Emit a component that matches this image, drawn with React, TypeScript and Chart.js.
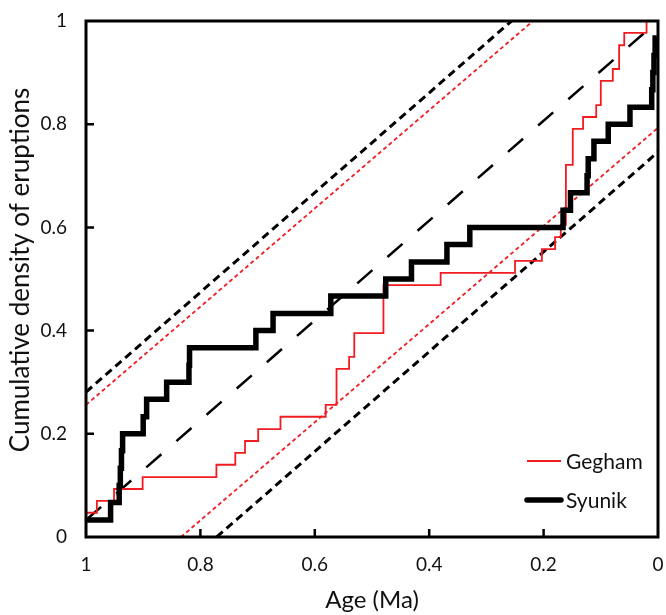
import React, { useEffect, useRef } from 'react';
import { Chart, registerables } from 'chart.js';

Chart.register(...registerables);

// ---- Axis ticks ----
const xTicks = [1, 0.8, 0.6, 0.4, 0.2, 0];
const xTickLabels = ['1', '0.8', '0.6', '0.4', '0.2', '0'];
const yTicks = [0, 0.2, 0.4, 0.6, 0.8, 1];
const yTickLabels = ['0', '0.2', '0.4', '0.6', '0.8', '1'];

const xTitle = 'Age (Ma)';
const yTitle = 'Cumulative density of eruptions';

// ---- Syunik (cumulative steps: age where the step occurs, new density) ----
const syunikAge = [
  1.0, 0.957, 0.942, 0.94, 0.938, 0.936, 0.9, 0.894, 0.859, 0.82, 0.819,
  0.703, 0.673, 0.572, 0.476, 0.431, 0.369, 0.329, 0.166, 0.153, 0.124,
  0.122, 0.112, 0.087, 0.049, 0.011, 0.009, 0.007, 0.005, 0.002,
];
const syunikDensity = [
  0.033, 0.067, 0.1, 0.133, 0.167, 0.2, 0.233, 0.267, 0.3, 0.333, 0.367,
  0.4, 0.433, 0.467, 0.5, 0.533, 0.567, 0.6, 0.633, 0.667, 0.7,
  0.733, 0.767, 0.8, 0.833, 0.867, 0.9, 0.933, 0.967, 0.967,
];

// ---- Gegham ----
const geghamAge = [
  1.0, 0.981, 0.951, 0.901, 0.772, 0.739, 0.722, 0.699, 0.66, 0.581, 0.562,
  0.54, 0.531, 0.48, 0.38, 0.25, 0.203, 0.18, 0.17, 0.161, 0.149, 0.131,
  0.108, 0.1, 0.079, 0.068, 0.059, 0.02, 0.002,
];
const geghamDensity = [
  0.047, 0.07, 0.093, 0.116, 0.14, 0.163, 0.186, 0.209, 0.233, 0.256, 0.326,
  0.349, 0.395, 0.488, 0.512, 0.535, 0.558, 0.581, 0.605, 0.721, 0.791, 0.814,
  0.837, 0.884, 0.907, 0.953, 0.977, 1.0, 1.0,
];

// ---- Reference lines ----
const uniformAge = [1, 0];
const uniformDensity = [0.033, 1];
const syunikUpperAge = [1, 0.256];
const syunikUpperDensity = [0.281, 1];
const syunikLowerAge = [0.7715, 0];
const syunikLowerDensity = [0, 0.746];
const geghamUpperAge = [1, 0.2185];
const geghamUpperDensity = [0.256, 1];
const geghamLowerAge = [0.834, 0];
const geghamLowerDensity = [0, 0.793];

const RED = 'rgb(240, 28, 34)';
const FONT = 'Lato, "Open Sans", sans-serif';

const pts = (xs: number[], ys: number[]) => xs.map((x, i) => ({ x, y: ys[i] }));

const framePlugin = {
  id: 'frameAndLegend',
  afterDraw(chart: any) {
    const { ctx, chartArea: a, scales } = chart;
    const xs = scales.x;
    const ys = scales.y;
    ctx.save();
    // frame
    ctx.strokeStyle = '#000';
    ctx.lineWidth = 3;
    ctx.strokeRect(a.left, a.top, a.right - a.left, a.bottom - a.top);
    // inward tick marks
    ctx.lineWidth = 2.5;
    ctx.beginPath();
    xTicks.forEach((v) => {
      if (v === 0 || v === 1) return;
      const px = xs.getPixelForValue(v);
      ctx.moveTo(px, a.bottom);
      ctx.lineTo(px, a.bottom - 8);
    });
    yTicks.forEach((v) => {
      if (v === 0 || v === 1) return;
      const py = ys.getPixelForValue(v);
      ctx.moveTo(a.left, py);
      ctx.lineTo(a.left + 8, py);
    });
    ctx.stroke();

    // legend
    const items = [
      { label: chart.data.datasets[1].label, color: RED, width: 2, cap: 'butt', y: a.bottom - 76 },
      { label: chart.data.datasets[0].label, color: '#000', width: 5.5, cap: 'round', y: a.bottom - 37 },
    ];
    ctx.font = `21px ${FONT}`;
    ctx.textAlign = 'left';
    ctx.textBaseline = 'middle';
    items.forEach((it) => {
      ctx.strokeStyle = it.color;
      ctx.lineWidth = it.width;
      ctx.lineCap = it.cap as CanvasLineCap;
      ctx.beginPath();
      ctx.moveTo(a.right - 131, it.y);
      ctx.lineTo(a.right - 97, it.y);
      ctx.stroke();
      ctx.fillStyle = '#111';
      ctx.fillText(it.label, a.right - 92, it.y + 1);
    });

    // y-axis title
    ctx.translate(21, 270);
    ctx.rotate(-Math.PI / 2);
    ctx.font = `26px ${FONT}`;
    ctx.textAlign = 'center';
    ctx.textBaseline = 'middle';
    ctx.fillStyle = '#111';
    ctx.fillText(yTitle, 0, 0);
    ctx.restore();
  },
};

export default function App() {
  const ref = useRef<HTMLCanvasElement>(null);
  useEffect(() => {
    document.body.style.margin = '0';
    const canvas = ref.current!;
    const line = (label: string, xs: number[], ys: number[], color: string, width: number, dash: number[] = [], stepped = false) => ({
      label,
      data: pts(xs, ys),
      borderColor: color,
      backgroundColor: color,
      borderWidth: width,
      borderDash: dash,
      stepped,
      pointRadius: 0,
      fill: false,
      tension: 0,
      borderJoinStyle: 'miter',
      borderCapStyle: 'butt',
    });
    const chart = new Chart(canvas, {
      type: 'line',
      data: {
        datasets: [
          line('Syunik', syunikAge, syunikDensity, '#000', 5.5, [], true),
          line('Gegham', geghamAge, geghamDensity, RED, 1.8, [], true),
          line('Uniform', uniformAge, uniformDensity, '#000', 2.5, [20, 20]),
          line('Gegham upper', geghamUpperAge, geghamUpperDensity, RED, 1.8, [4, 3]),
          line('Gegham lower', geghamLowerAge, geghamLowerDensity, RED, 1.8, [4, 3]),
          line('Syunik upper', syunikUpperAge, syunikUpperDensity, '#000', 3, [8, 5]),
          line('Syunik lower', syunikLowerAge, syunikLowerDensity, '#000', 3, [8, 5]),
        ] as any,
      },
      options: {
        responsive: false,
        animation: false,
        layout: { padding: { left: 0, right: 8, top: 21, bottom: 0 } },
        plugins: { legend: { display: false }, tooltip: { enabled: false } },
        scales: {
          x: {
            type: 'linear',
            reverse: true,
            min: 0,
            max: 1,
            afterBuildTicks: (s: any) => {
              s.ticks = xTicks.map((v) => ({ value: v }));
            },
            afterFit: (s: any) => {
              s.height = 78;
              s.paddingLeft = 0;
              s.paddingRight = 0;
            },
            grid: { display: true, drawOnChartArea: false, drawTicks: false },
            border: { display: false },
            ticks: {
              padding: 16,
              color: '#111',
              font: { family: FONT, size: 19 },
              maxRotation: 0,
              callback: (v: any) => xTickLabels[xTicks.indexOf(Number(v))],
            },
            title: {
              display: true,
              text: xTitle,
              color: '#111',
              font: { family: FONT, size: 24 },
              padding: { top: 0, bottom: 0 },
            },
          },
          y: {
            type: 'linear',
            min: 0,
            max: 1,
            afterBuildTicks: (s: any) => {
              s.ticks = yTicks.map((v) => ({ value: v }));
            },
            afterFit: (s: any) => {
              s.width = 86;
              s.paddingTop = 0;
              s.paddingBottom = 0;
            },
            grid: { display: true, drawOnChartArea: false, drawTicks: false },
            border: { display: false },
            ticks: {
              padding: 19,
              color: '#111',
              font: { family: FONT, size: 19 },
              callback: (v: any) => yTickLabels[yTicks.indexOf(Number(v))],
            },
          },
        },
      } as any,
      plugins: [framePlugin],
    });
    return () => chart.destroy();
  }, []);
  return (
    <div style={{ width: 666, height: 615 }}>
      <canvas ref={ref} width={666} height={615} style={{ display: 'block' }} />
    </div>
  );
}
